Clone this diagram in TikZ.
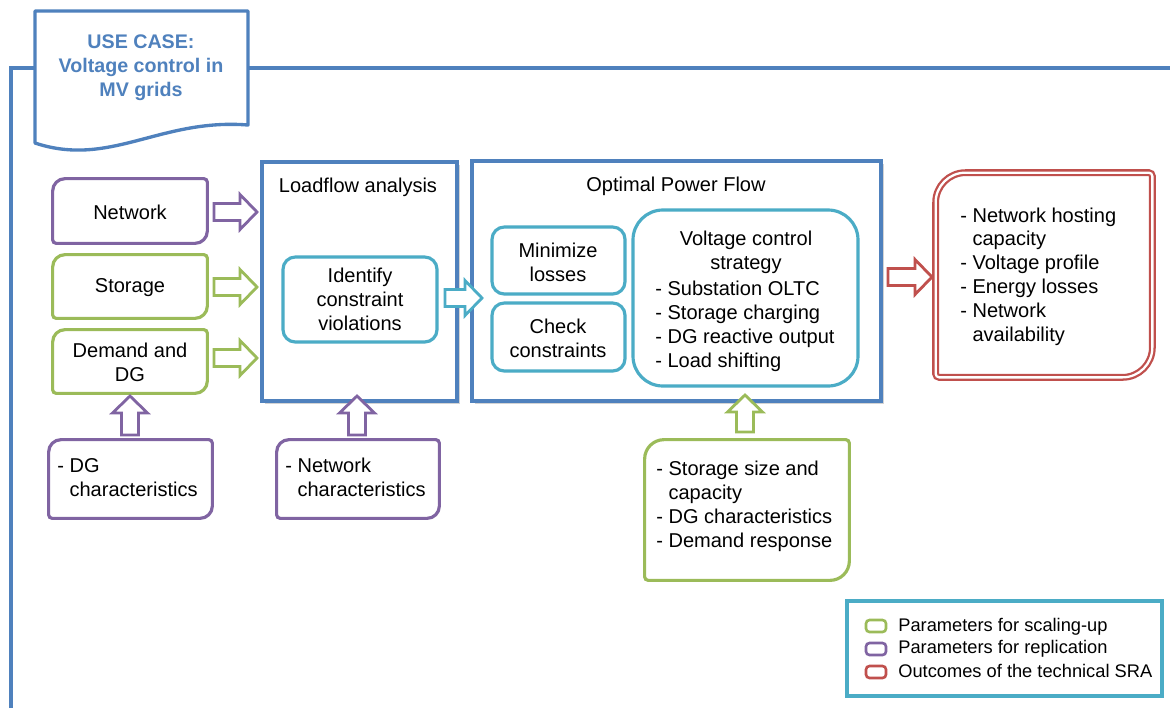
\documentclass[tikz,border=0pt]{standalone}
\usepackage{fontspec}
\setmainfont{Liberation Sans}
\usetikzlibrary{fit,shadows}
\definecolor{cblue}{HTML}{4F81BD}
\definecolor{cteal}{HTML}{4BACC6}
\definecolor{cpurp}{HTML}{8064A2}
\definecolor{cgreen}{HTML}{9BBB59}
\definecolor{cred}{HTML}{C0504D}
\newcommand\rdiag[5]{% node, color, big radius, small radius, extra options
  \draw[#2, line width=1.8pt, #5] (#1.west) [rounded corners=#3] |- (#1.north) [rounded corners=#4] -| (#1.east) [rounded corners=#3] |- (#1.south) [rounded corners=#4] -| (#1.west) [sharp corners] -- cycle;}
\tikzset{
  pics/barrow/.style={code={\draw[pic actions, line width=1.6pt, fill=white, line join=miter]
    (0,-8.5) -- (#1-17,-8.5) -- (#1-17,-17.5) -- (#1,0) -- (#1-17,17.5) -- (#1-17,8.5) -- (0,8.5) -- cycle;}}
}
\begin{document}
\begin{tikzpicture}[x=0.02cm,y=-0.02cm,
  area/.style={fit={#1}, inner sep=0pt},
  txt/.style={font=\fontsize{11.4}{13.6}\selectfont, inner sep=0pt, align=center, text=black},
  lst/.style={font=\fontsize{11.4}{13.6}\selectfont, inner sep=0pt, anchor=west},
  lg/.style={font=\fontsize{10.4}{12.5}\selectfont, inner sep=0pt, anchor=west},
  ttl/.style={font=\bfseries\fontsize{11.2}{13.6}\selectfont, inner sep=0pt, align=center, text=cblue},
  mainbox/.style={draw=cblue, line width=2pt, fill=white, drop shadow={shadow xshift=1.8pt, shadow yshift=-1.8pt, opacity=0.35}},
  tealbox/.style={draw=cteal, line width=1.8pt, rounded corners=#1},
  legbox/.style={draw=#1, line width=1.5pt, rounded corners=2pt, inner sep=0pt}
]
\useasboundingbox (0,0) rectangle (1170,708);

% frame line and use-case document shape
\draw[cblue, line width=1.9pt] (11,708) -- (11,68) -- (35,68);
\draw[cblue, line width=1.9pt] (248,68) -- (1170,68);
\draw[cblue, line width=1.9pt, fill=white, line join=round]
  (35,11) -- (248,11) -- (248,125) .. controls (160,118) and (110,168) .. (35,143) -- cycle;
\node[ttl] (title) at (141,68) {USE CASE:\\Voltage control in\\MV grids};

% left input boxes
\node[area={(53,179) (207,243)}] (net) {};
\rdiag{net}{cpurp}{7pt}{2pt}{}
\node[txt] (nett) at (130,212) {Network};
\node[area={(53,255) (207,318)}] (sto) {};
\rdiag{sto}{cgreen}{7pt}{2pt}{}
\node[txt] (stot) at (130,288) {Storage};
\node[area={(53,330) (207,393)}] (dem) {};
\rdiag{dem}{cgreen}{7pt}{2pt}{}
\node[txt] (demt) at (130,362) {Demand and\\DG};

% loadflow
\node[mainbox, area={(262,162) (457,401)}] (lf) {};
\node[txt] (lft) at (358,187) {Loadflow analysis};
\node[tealbox=7pt, area={(283,257) (437,342)}] (idv) {};
\node[txt] (idvt) at (360,299) {Identify\\constraint\\violations};

% OPF
\node[mainbox, area={(472,161) (881,401)}] (opf) {};
\node[txt] (opft) at (676,186) {Optimal Power Flow};
\node[tealbox=7pt, area={(492,227) (625,294)}] (minl) {};
\node[txt] (minlt) at (558,262) {Minimize\\losses};
\node[tealbox=7pt, area={(492,303) (625,371)}] (chk) {};
\node[txt] (chkt) at (558,338) {Check\\constraints};
\node[tealbox=17pt, area={(633,210) (858,386)}] (vcs) {};
\node[txt] (vcst) at (746,252) {Voltage control\\strategy};
\node[lst] (vcsl) at (655,327) {\begin{tabular}{@{}l@{\ }l@{}}-&Substation OLTC\\-&Storage charging\\-&DG reactive output\\-&Load shifting\end{tabular}};

% outcomes
\node[area={(936,173) (1152,377)}] (out) {};
\rdiag{out}{cred}{17pt}{2pt}{line width=1.3pt, double=white, double distance=1.3pt}
\node[lst] (outl) at (960,277) {\begin{tabular}{@{}l@{\ }l@{}}-&Network hosting\\&capacity\\-&Voltage profile\\-&Energy losses\\-&Network\\&availability\end{tabular}};

% bottom parameter boxes
\node[area={(49,440) (212,518)}] (dgc) {};
\rdiag{dgc}{cpurp}{7pt}{2pt}{}
\node[lst] (dgct) at (57,480) {\begin{tabular}{@{}l@{\ }l@{}}-&DG\\&characteristics\end{tabular}};
\node[area={(277,440) (439,518)}] (ncc) {};
\rdiag{ncc}{cpurp}{7pt}{2pt}{}
\node[lst] (ncct) at (285,480) {\begin{tabular}{@{}l@{\ }l@{}}-&Network\\&characteristics\end{tabular}};
\node[area={(645,440) (849,580)}] (grn) {};
\rdiag{grn}{cgreen}{11pt}{2pt}{}
\node[lst] (grnt) at (656,507) {\begin{tabular}{@{}l@{\ }l@{}}-&Storage size and\\&capacity\\-&DG characteristics\\-&Demand response\end{tabular}};

% block arrows
\pic[draw=cpurp] at (214,212) {barrow=43};
\pic[draw=cgreen] at (214,287) {barrow=43};
\pic[draw=cgreen] at (214,358) {barrow=43};
\pic[draw=cteal] at (445,298) {barrow=37};
\pic[draw=cred] at (888,277) {barrow=44};
\pic[draw=cpurp, rotate=90] at (130,435) {barrow=39};
\pic[draw=cpurp, rotate=90] at (357,435) {barrow=39};
\pic[draw=cgreen, rotate=90] at (745,432) {barrow=37};

% legend
\node[draw=cteal, line width=1.8pt, area={(847,601) (1162,696)}] (leg) {};
\node[legbox=cgreen, area={(866,620) (886,632)}] (lg1) {};
\node[legbox=cpurp, area={(866,643) (886,655)}] (lg2) {};
\node[legbox=cred, area={(866,666) (886,678)}] (lg3) {};
\node[lg] (lg1t) at (898,627) {Parameters for scaling-up};
\node[lg] (lg2t) at (898,649) {Parameters for replication};
\node[lg] (lg3t) at (898,671) {Outcomes of the technical SRA};
\end{tikzpicture}
\end{document}
